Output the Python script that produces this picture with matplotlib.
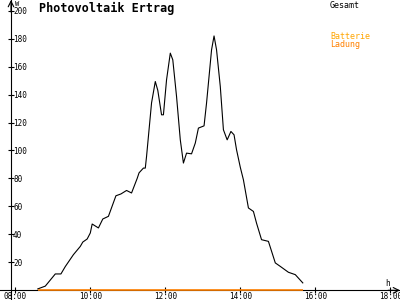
import matplotlib
matplotlib.use("Agg")
import matplotlib.pyplot as plt

# ---- data ----
times = ["08:36", "08:48", "09:04", "09:13", "09:20", "09:33", "09:44", "09:48", "09:55",
         "10:00", "10:03", "10:13", "10:20", "10:29", "10:41", "10:49", "10:58", "11:06",
         "11:15", "11:18", "11:25", "11:28", "11:30", "11:38", "11:44", "11:48", "11:54",
         "11:57", "12:02", "12:08", "12:12", "12:18", "12:24", "12:29", "12:34", "12:42",
         "12:48", "12:53", "13:02", "13:06", "13:14", "13:18", "13:22", "13:28", "13:33",
         "13:39", "13:45", "13:50", "13:54", "14:00", "14:05", "14:13", "14:21", "14:26",
         "14:34", "14:45", "14:56", "15:04", "15:17", "15:28", "15:40"]
gesamt = [1, 3, 11.7, 11.7, 17, 25.5, 31.4, 34.5, 36.7,
          41, 47.4, 44.6, 51, 52.9, 67.6, 68.9, 71.4, 69.6,
          80, 84, 87.4, 87.4, 95.7, 134, 149.3, 143, 125.5,
          125.5, 150.5, 169.6, 164.8, 138.6, 107.6, 91, 98.1, 97.6,
          105.3, 116, 117.6, 133.9, 171.9, 181.9, 172, 145.7, 114.8,
          107.6, 113.6, 111.2, 100.5, 88, 79, 58.9, 56.4, 48,
          36.2, 35, 19.6, 17.1, 12.9, 11.2, 5.3]
ladung_times = ["08:36", "15:40"]
ladung = [0, 0]

xticks = [8, 10, 12, 14, 16, 18]
xtick_labels = ["08:00", "10:00", "12:00", "14:00", "16:00", "18:00"]
yticks = [20, 40, 60, 80, 100, 120, 140, 160, 180, 200]


def to_h(s):
    h, m = s.split(":")
    return int(h) + int(m) / 60.0


t = [to_h(s) for s in times]
tl = [to_h(s) for s in ladung_times]

mono = "DejaVu Sans Mono"
fig = plt.figure(figsize=(4, 3), dpi=100)
ax = fig.add_axes([0, 0, 1, 1])
ax.set_xlim(7.592, 18.259)
ax.set_ylim(-6.93, 207.6)

ax.plot(t, gesamt, color="black", lw=0.8, zorder=3)
ax.plot(tl, ladung, color="#ff8000", lw=1.2, zorder=4, solid_capstyle="butt")

for s in ["top", "right"]:
    ax.spines[s].set_visible(False)
ax.spines["left"].set_position(("data", 7.885))
ax.spines["bottom"].set_position(("data", 0))
ax.spines["left"].set_linewidth(0.8)
ax.spines["bottom"].set_linewidth(0.8)

ax.set_xticks(xticks)
ax.set_xticklabels(xtick_labels, family=mono, fontsize=5.5)
ax.set_yticks(yticks)
ax.set_yticklabels([str(v) for v in yticks], family=mono, fontsize=5.5)
ax.tick_params(axis="x", direction="inout", length=5, width=0.8, pad=-1.2)
ax.tick_params(axis="y", direction="inout", length=5, width=0.8, pad=-4)
for lab in ax.get_yticklabels():
    lab.set_ha("left")

# axis arrows
ax.annotate("", xy=(1.0, 0), xycoords=("axes fraction", "data"),
            xytext=(0.97, 0), textcoords=("axes fraction", "data"),
            arrowprops=dict(arrowstyle="->", lw=0.8, color="black",
                            shrinkA=0, shrinkB=0))
ax.annotate("", xy=(7.885, 1.0), xycoords=("data", "axes fraction"),
            xytext=(7.885, 0.96), textcoords=("data", "axes fraction"),
            arrowprops=dict(arrowstyle="->", lw=0.8, color="black",
                            shrinkA=0, shrinkB=0))

fig.text(15 / 400, 1 - 0.5 / 300, "W", family=mono, fontsize=5, va="top", ha="left")
fig.text(385 / 400, 1 - 279 / 300, "h", family=mono, fontsize=5.5, va="top", ha="left")

fig.text(39 / 400, 1 - 1.5 / 300, "Photovoltaik Ertrag", family=mono,
         fontweight="bold", fontsize=8.5, va="top", ha="left")

fig.text(330 / 400, 1 - 1.5 / 300, "Gesamt", family=mono, fontsize=6,
         color="black", va="top", ha="left")
fig.text(330 / 400, 1 - 32 / 300, "Batterie", family=mono, fontsize=6,
         color="#ffa500", va="top", ha="left")
fig.text(330 / 400, 1 - 40 / 300, "Ladung", family=mono, fontsize=6,
         color="#ff8000", va="top", ha="left")

fig.savefig("out.png", dpi=100)
